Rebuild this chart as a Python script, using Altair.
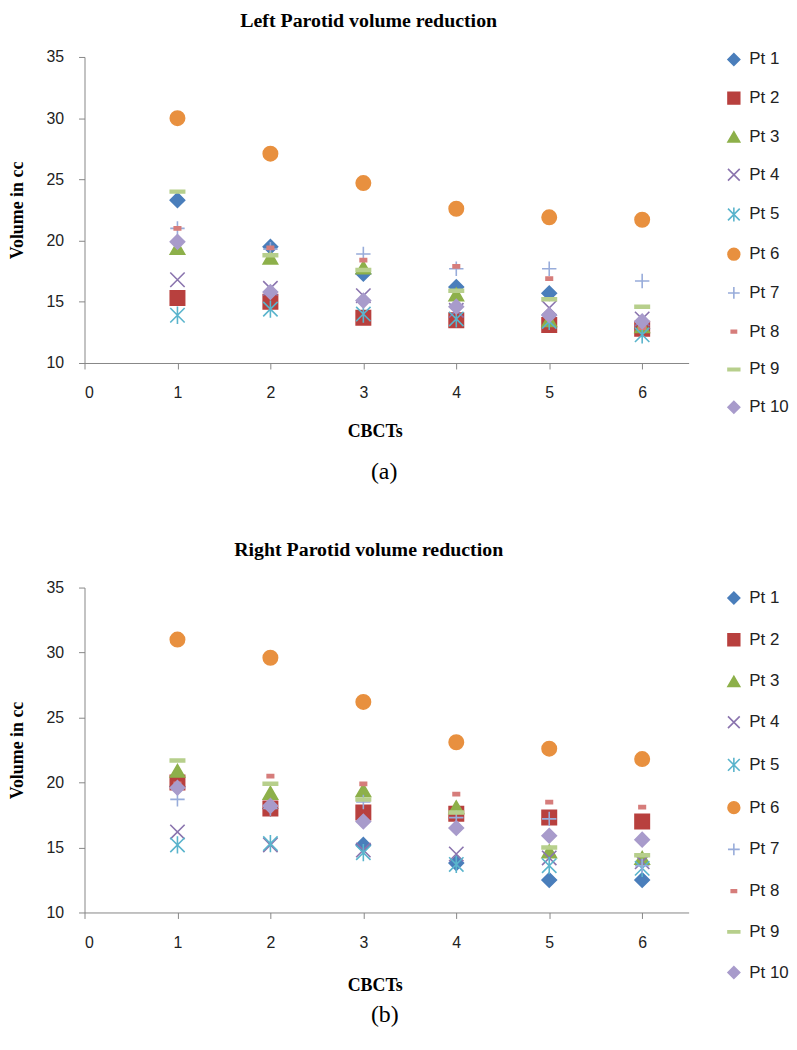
import altair as alt
import pandas as pd

patients = ["Pt 1", "Pt 2", "Pt 3", "Pt 4", "Pt 5", "Pt 6", "Pt 7", "Pt 8", "Pt 9", "Pt 10"]
cbcts = [1, 2, 3, 4, 5, 6]

left_vals = {
    "Pt 1": [23.3, 19.5, 17.3, 16.2, 15.7, 12.8],
    "Pt 2": [15.3, 15.0, 13.7, 13.5, 13.1, 12.8],
    "Pt 3": [19.4, 18.6, 17.8, 15.6, 13.5, 13.0],
    "Pt 4": [16.8, 16.1, 15.5, 14.3, 14.5, 13.6],
    "Pt 5": [13.9, 14.4, 14.0, 13.6, 13.4, 12.3],
    "Pt 6": [30.0, 27.1, 24.7, 22.6, 21.9, 21.7],
    "Pt 7": [21.0, 19.3, 18.9, 17.7, 17.7, 16.7],
    "Pt 8": [21.0, 19.4, 18.4, 17.9, 16.9, 12.9],
    "Pt 9": [24.0, 18.8, 17.6, 15.9, 15.2, 14.6],
    "Pt 10": [19.9, 15.8, 15.1, 14.6, 13.9, 13.4],
}

right_vals = {
    "Pt 1": [19.7, 18.0, 15.2, 13.8, 12.5, 12.5],
    "Pt 2": [20.0, 18.0, 17.7, 17.6, 17.3, 17.0],
    "Pt 3": [20.9, 19.2, 19.4, 18.1, 14.7, 14.2],
    "Pt 4": [16.2, 15.2, 14.8, 14.5, 14.2, 13.9],
    "Pt 5": [15.2, 15.3, 14.6, 13.7, 13.6, 13.4],
    "Pt 6": [31.0, 29.6, 26.2, 23.1, 22.6, 21.8],
    "Pt 7": [18.7, 18.0, 18.5, 17.3, 17.2, 13.6],
    "Pt 8": [19.9, 20.5, 19.9, 19.1, 18.5, 18.1],
    "Pt 9": [21.7, 19.9, 18.7, 17.7, 15.0, 14.4],
    "Pt 10": [19.6, 18.2, 17.0, 16.5, 15.9, 15.6],
}

colors = ["#4A7EBB", "#B8403E", "#8DB04A", "#8A74AE", "#5AB4CC",
          "#E8903F", "#98ACDA", "#D67D7B", "#B7CF8C", "#A89BCB"]
fills = ["#4A7EBB", "#B8403E", "#8DB04A", "transparent", "transparent",
         "#E8903F", "transparent", "#D67D7B", "#B7CF8C", "#A89BCB"]
shapes = [
    "diamond",
    "square",
    "triangle-up",
    "M-1,-1L1,1M-1,1L1,-1",
    "M-1,-1L1,1M-1,1L1,-1M0,-1.2L0,1.2",
    "circle",
    "M-1,0L1,0M0,-1L0,1",
    "M-0.45,-0.22L0.45,-0.22L0.45,0.22L-0.45,0.22Z",
    "M-1,-0.2L1,-0.2L1,0.2L-1,0.2Z",
    "diamond",
]


def make_df(vals):
    rows = []
    for p in patients:
        for c, v in zip(cbcts, vals[p]):
            rows.append({"Patient": p, "CBCT": c, "Volume": v})
    return pd.DataFrame(rows)


def panel(vals, title, height, row_pad, legend_y, title_offset, xtitle_pad):
    df = make_df(vals)
    leg = dict(title=None, orient="none", legendX=645, legendY=legend_y,
               labelFont="Liberation Sans", labelFontSize=17, labelColor="#222222",
               symbolSize=140, symbolStrokeWidth=1.6, rowPadding=row_pad, labelOffset=7)
    return alt.Chart(df).mark_point(filled=True, size=210, strokeWidth=1.6, opacity=1).encode(
        x=alt.X("CBCT:Q", scale=alt.Scale(domain=[0, 6.5], nice=False, zero=False),
                axis=alt.Axis(values=[0, 1, 2, 3, 4, 5, 6], title="CBCTs", titleX=292,
                              labelPadding=16, titlePadding=xtitle_pad)),
        y=alt.Y("Volume:Q", scale=alt.Scale(domain=[10, 35], nice=False, zero=False),
                axis=alt.Axis(values=[10, 15, 20, 25, 30, 35], title="Volume in cc",
                              titlePadding=20, labelPadding=15)),
        fill=alt.Fill("Patient:N", scale=alt.Scale(domain=patients, range=fills),
                      legend=alt.Legend(**leg)),
        stroke=alt.Stroke("Patient:N", scale=alt.Scale(domain=patients, range=colors),
                          legend=alt.Legend(**leg)),
        shape=alt.Shape("Patient:N", scale=alt.Scale(domain=patients, range=shapes),
                        legend=alt.Legend(**leg)),
    ).properties(
        width=608, height=height,
        title=alt.TitleParams(title, font="Liberation Serif", fontSize=20, fontWeight="bold",
                              anchor="middle", dx=-18, offset=title_offset, color="#000000"),
    )


left = panel(left_vals, "Left Parotid volume reduction", 308, 20, -6, 18, 22)
right = panel(right_vals, "Right Parotid volume reduction", 327, 23, 2, 20, 27)

part_a = alt.vconcat(left).properties(
    title=alt.TitleParams("(a)", orient="bottom", font="Liberation Serif", fontSize=24,
                          fontWeight="normal", anchor="start", dx=365, offset=20, color="#000000"))
part_b = alt.vconcat(right).properties(
    title=alt.TitleParams("(b)", orient="bottom", font="Liberation Serif", fontSize=24,
                          fontWeight="normal", anchor="start", dx=365, offset=8, color="#000000"))

chart = alt.vconcat(part_a, part_b, spacing=56).resolve_scale(
    fill="independent", stroke="independent", shape="independent"
).resolve_legend(
    fill="independent", stroke="independent", shape="independent"
).properties(
    padding={"left": 0, "top": 0, "right": 0, "bottom": 0}
).configure_view(
    stroke=None
).configure_axis(
    grid=False,
    domainColor="#868686",
    tickColor="#868686",
    tickSize=6,
    labelFont="Liberation Sans",
    labelFontSize=16,
    labelColor="#222222",
    titleFont="Liberation Serif",
    titleFontSize=18,
    titleFontWeight="bold",
    titleColor="#000000",
)

chart.save("out.html", embed_options={"renderer": "svg", "actions": False})
